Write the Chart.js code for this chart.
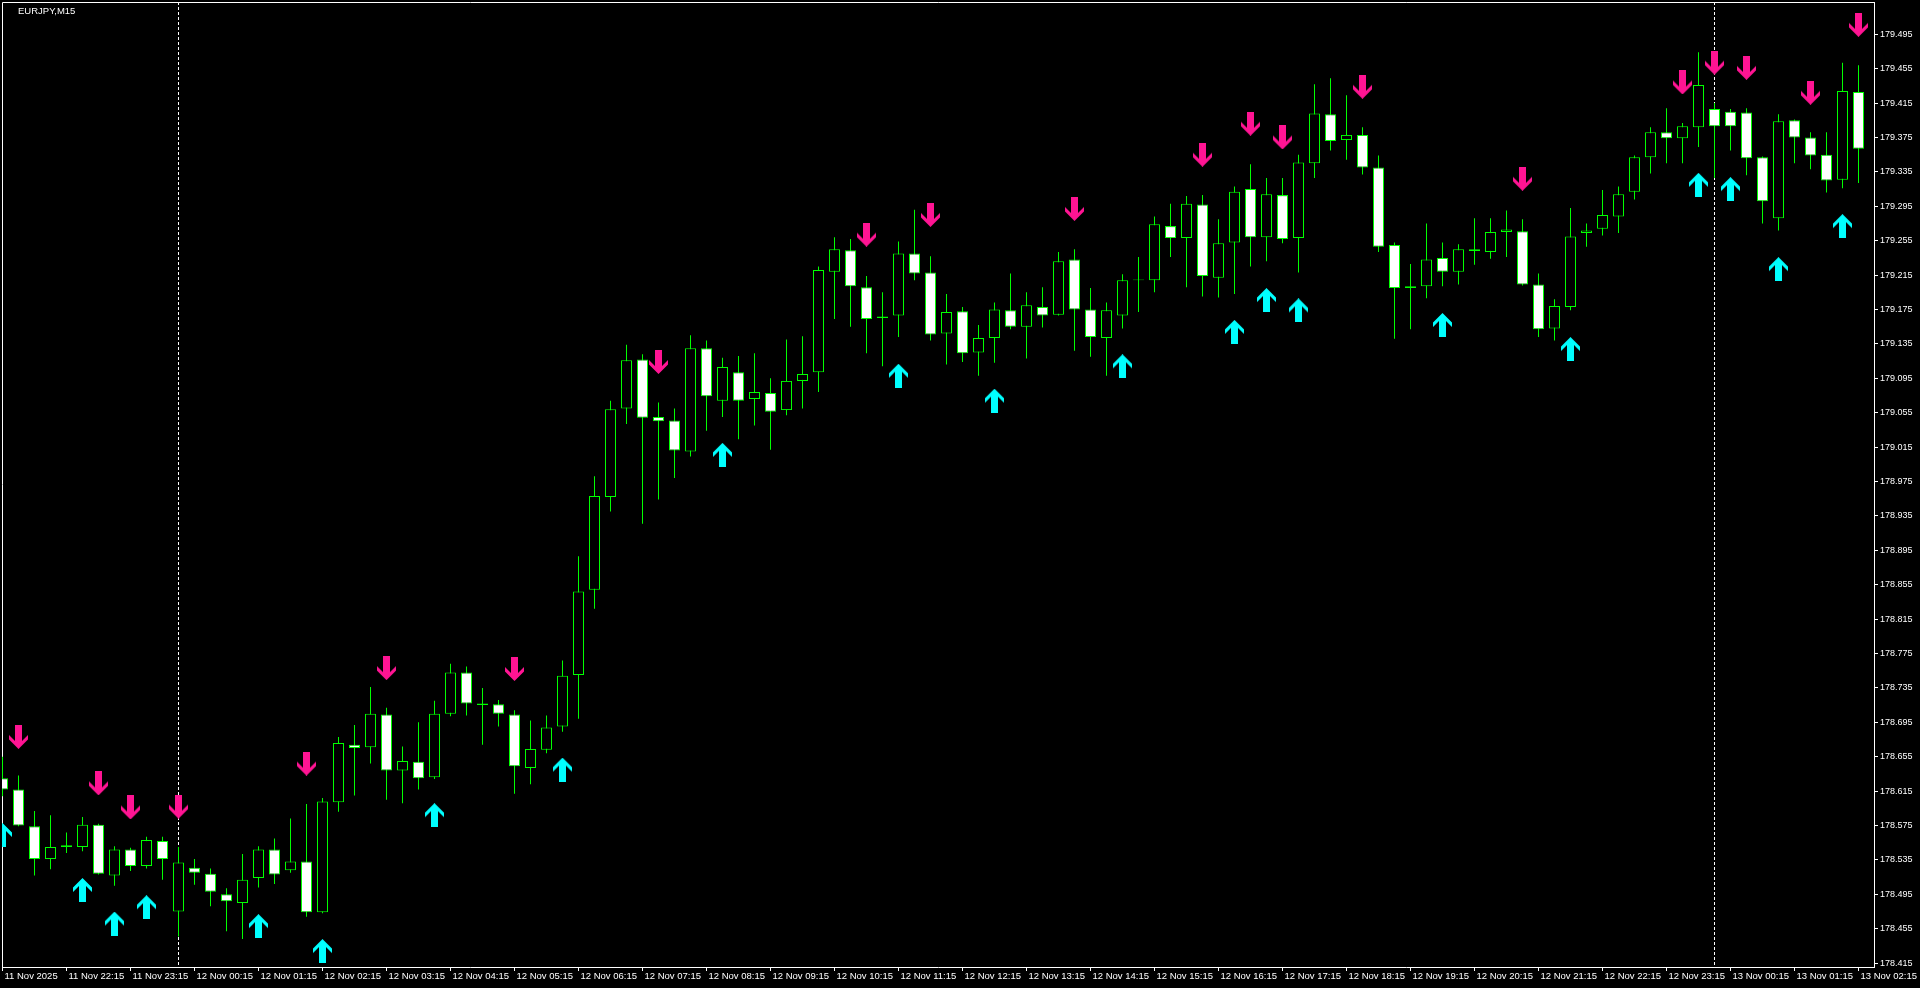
<!DOCTYPE html>
<html>
<head>
<meta charset="utf-8">
<title>EURJPY,M15</title>
<script src="https://cdn.jsdelivr.net/npm/chart.js@4.4.1/dist/chart.umd.min.js"></script>
<style>
  html, body { margin: 0; padding: 0; background: #000; overflow: hidden; }
  #wrap { width: 1920px; height: 988px; }
</style>
</head>
<body>
<div id="wrap"><canvas id="chart" width="1920" height="988"></canvas></div>
<script>
// EURJPY M15, 11 Nov 21:15 .. 13 Nov 02:15 (117 bars)
const symbolTitle = "EURJPY,M15";

const openPrices = [
  178.630, 178.617, 178.574, 178.536, 178.550, 178.550, 178.576, 178.517, 178.547, 178.528,
  178.557, 178.475, 178.526, 178.519, 178.495, 178.485, 178.514, 178.547, 178.523, 178.533,
  178.474, 178.602, 178.669, 178.666, 178.704, 178.639, 178.649, 178.631, 178.705, 178.753,
  178.717, 178.716, 178.704, 178.642, 178.663, 178.690, 178.750, 178.849, 178.957, 179.060,
  179.117, 179.050, 179.046, 179.010, 179.130, 179.069, 179.102, 179.071, 179.078, 179.058,
  179.092, 179.102, 179.219, 179.244, 179.201, 179.167, 179.168, 179.240, 179.218, 179.147,
  179.173, 179.125, 179.142, 179.174, 179.155, 179.178, 179.169, 179.233, 179.175, 179.142,
  179.168, 179.209, 179.209, 179.272, 179.258, 179.297, 179.212, 179.253, 179.315, 179.259,
  179.308, 179.258, 179.345, 179.402, 179.372, 179.378, 179.340, 179.250, 179.200, 179.202,
  179.235, 179.219, 179.245, 179.242, 179.265, 179.266, 179.204, 179.153, 179.178, 179.264,
  179.269, 179.283, 179.312, 179.352, 179.381, 179.374, 179.387, 179.408, 179.405, 179.404,
  179.352, 179.281, 179.395, 179.375, 179.355, 179.326, 179.428,
];
const highPrices = [
  178.655, 178.633, 178.592, 178.587, 178.567, 178.585, 178.577, 178.551, 178.549, 178.562,
  178.562, 178.550, 178.536, 178.525, 178.502, 178.542, 178.551, 178.560, 178.583, 178.600,
  178.607, 178.678, 178.692, 178.736, 178.712, 178.667, 178.695, 178.720, 178.763, 178.760,
  178.735, 178.721, 178.709, 178.697, 178.703, 178.767, 178.888, 178.981, 179.069, 179.134,
  179.123, 179.067, 179.060, 179.145, 179.139, 179.119, 179.121, 179.124, 179.095, 179.140,
  179.144, 179.225, 179.259, 179.257, 179.214, 179.195, 179.254, 179.291, 179.237, 179.193,
  179.178, 179.157, 179.183, 179.217, 179.195, 179.201, 179.242, 179.245, 179.200, 179.183,
  179.216, 179.236, 179.283, 179.298, 179.307, 179.308, 179.280, 179.318, 179.344, 179.328,
  179.328, 179.355, 179.437, 179.444, 179.424, 179.387, 179.354, 179.253, 179.228, 179.275,
  179.253, 179.251, 179.281, 179.281, 179.290, 179.280, 179.217, 179.187, 179.293, 179.275,
  179.314, 179.318, 179.354, 179.387, 179.409, 179.392, 179.474, 179.415, 179.408, 179.409,
  179.353, 179.402, 179.396, 179.381, 179.381, 179.462, 179.459,
];
const lowPrices = [
  178.609, 178.574, 178.517, 178.524, 178.543, 178.545, 178.518, 178.505, 178.522, 178.525,
  178.512, 178.446, 178.506, 178.481, 178.452, 178.443, 178.503, 178.507, 178.520, 178.469,
  178.473, 178.591, 178.610, 178.647, 178.605, 178.601, 178.617, 178.629, 178.702, 178.703,
  178.669, 178.690, 178.612, 178.623, 178.659, 178.684, 178.699, 178.827, 178.940, 179.042,
  178.926, 178.954, 178.979, 179.004, 179.034, 179.050, 179.024, 179.040, 179.012, 179.052,
  179.060, 179.079, 179.164, 179.155, 179.124, 179.109, 179.143, 179.209, 179.139, 179.111,
  179.114, 179.098, 179.113, 179.152, 179.118, 179.154, 179.168, 179.127, 179.120, 179.098,
  179.153, 179.172, 179.195, 179.236, 179.201, 179.190, 179.189, 179.193, 179.225, 179.231,
  179.252, 179.218, 179.328, 179.360, 179.349, 179.332, 179.242, 179.141, 179.152, 179.188,
  179.202, 179.204, 179.227, 179.234, 179.236, 179.203, 179.143, 179.139, 179.174, 179.248,
  179.261, 179.264, 179.303, 179.333, 179.345, 179.345, 179.364, 179.328, 179.360, 179.331,
  179.275, 179.267, 179.345, 179.338, 179.311, 179.316, 179.322,
];
const closePrices = [
  178.617, 178.575, 178.536, 178.550, 178.552, 178.576, 178.519, 178.547, 178.528, 178.558,
  178.536, 178.532, 178.520, 178.498, 178.487, 178.512, 178.547, 178.518, 178.533, 178.474,
  178.603, 178.671, 178.665, 178.705, 178.639, 178.650, 178.630, 178.705, 178.753, 178.717,
  178.715, 178.705, 178.644, 178.664, 178.689, 178.749, 178.847, 178.958, 179.059, 179.116,
  179.049, 179.045, 179.011, 179.130, 179.074, 179.108, 179.069, 179.079, 179.056, 179.092,
  179.100, 179.221, 179.245, 179.202, 179.164, 179.165, 179.240, 179.217, 179.146, 179.172,
  179.124, 179.142, 179.175, 179.155, 179.180, 179.168, 179.231, 179.175, 179.143, 179.174,
  179.209, 179.210, 179.274, 179.258, 179.298, 179.214, 179.252, 179.312, 179.259, 179.309,
  179.257, 179.346, 179.403, 179.371, 179.378, 179.340, 179.248, 179.200, 179.202, 179.233,
  179.219, 179.245, 179.243, 179.265, 179.268, 179.204, 179.152, 179.179, 179.260, 179.267,
  179.285, 179.309, 179.352, 179.381, 179.374, 179.388, 179.436, 179.388, 179.388, 179.351,
  179.301, 179.394, 179.375, 179.354, 179.325, 179.429, 179.362,
];

// indicator arrows: bar index and price level of the arrow centre
const sellArrowBars   = [1, 6, 8, 11, 19, 24, 32, 41, 54, 58, 67, 75, 78, 80, 85, 95, 105, 107, 109, 113, 116];
const sellArrowPrices = [178.678, 178.624, 178.596, 178.597, 178.647, 178.758, 178.757, 179.114, 179.262, 179.285,
                         179.292, 179.355, 179.391, 179.375, 179.434, 179.327, 179.439, 179.462, 179.456, 179.427, 179.506];
const buyArrowBars    = [0, 5, 7, 9, 16, 20, 27, 35, 45, 56, 62, 70, 77, 79, 81, 90, 98, 106, 108, 111, 115];
const buyArrowPrices  = [178.564, 178.500, 178.461, 178.480, 178.458, 178.429, 178.587, 178.640, 179.006, 179.098,
                         179.069, 179.109, 179.149, 179.186, 179.174, 179.157, 179.129, 179.320, 179.315, 179.222, 179.272];

// day separators (first bar of 12 Nov and 13 Nov)
const separatorBars = [11, 107];

const xTickBars = [0, 4, 8, 12, 16, 20, 24, 28, 32, 36, 40, 44, 48, 52, 56, 60, 64, 68, 72, 76, 80, 84, 88, 92, 96, 100, 104, 108, 112, 116];
const xTickLabels = [
  "11 Nov 2025", "11 Nov 22:15", "11 Nov 23:15", "12 Nov 00:15", "12 Nov 01:15", "12 Nov 02:15",
  "12 Nov 03:15", "12 Nov 04:15", "12 Nov 05:15", "12 Nov 06:15", "12 Nov 07:15", "12 Nov 08:15",
  "12 Nov 09:15", "12 Nov 10:15", "12 Nov 11:15", "12 Nov 12:15", "12 Nov 13:15", "12 Nov 14:15",
  "12 Nov 15:15", "12 Nov 16:15", "12 Nov 17:15", "12 Nov 18:15", "12 Nov 19:15", "12 Nov 20:15",
  "12 Nov 21:15", "12 Nov 22:15", "12 Nov 23:15", "13 Nov 00:15", "13 Nov 01:15", "13 Nov 02:15",
];
const yTickValues = [
  178.415, 178.455, 178.495, 178.535, 178.575, 178.615, 178.655, 178.695, 178.735, 178.775,
  178.815, 178.855, 178.895, 178.935, 178.975, 179.015, 179.055, 179.095, 179.135, 179.175,
  179.215, 179.255, 179.295, 179.335, 179.375, 179.415, 179.455, 179.495,
];

const GREEN = "#00ff00";
const PINK = "#ff1493";
const CYAN = "#00ffff";
const AXIS_FONT = "'Liberation Sans', Arial, sans-serif";

// arrow glyph (up), flipped for the sell signal
function makeArrow(color, down) {
  const c = document.createElement("canvas");
  c.width = 19;
  c.height = 24;
  const g = c.getContext("2d");
  const pts = [[9.5, 0], [19, 9.5], [19, 14], [13, 8], [13, 24], [6, 24], [6, 8], [0, 14], [0, 9.5]];
  g.beginPath();
  pts.forEach(([x, y], k) => {
    const yy = down ? 24 - y : y;
    if (k) g.lineTo(x, yy); else g.moveTo(x, yy);
  });
  g.closePath();
  g.fillStyle = color;
  g.fill();
  return c;
}

const bars = openPrices.map((_, i) => i);
const wickData = bars.map((i) => ({ x: i, y: [lowPrices[i], highPrices[i]] }));
const bodyData = bars.map((i) => ({ x: i, y: [openPrices[i], closePrices[i]] }));
const bodyFill = bars.map((i) => (closePrices[i] > openPrices[i] ? "#000000" : "#ffffff"));
const sellData = sellArrowBars.map((b, k) => ({ x: b, y: sellArrowPrices[k] }));
const buyData = buyArrowBars.map((b, k) => ({ x: b, y: buyArrowPrices[k] }));

// white frame, day separators and symbol caption
const terminalFrame = {
  id: "terminalFrame",
  beforeDatasetsDraw(chart) {
    const { ctx, chartArea: a, scales } = chart;
    ctx.save();
    ctx.strokeStyle = "#ffffff";
    ctx.lineWidth = 1;
    ctx.setLineDash([3, 2]);
    separatorBars.forEach((b) => {
      const px = scales.x.getPixelForValue(b);
      ctx.beginPath();
      ctx.moveTo(px, a.top);
      ctx.lineTo(px, a.bottom);
      ctx.stroke();
    });
    ctx.setLineDash([]);
    ctx.beginPath();
    ctx.moveTo(a.left + 0.5, a.bottom);
    ctx.lineTo(a.left + 0.5, a.top + 0.5);
    ctx.lineTo(a.right, a.top + 0.5);
    ctx.stroke();
    ctx.restore();
  },
  afterDraw(chart) {
    const ctx = chart.ctx;
    ctx.save();
    ctx.fillStyle = "#ffffff";
    ctx.font = "9.5px " + AXIS_FONT;
    ctx.textBaseline = "middle";
    ctx.fillText(symbolTitle, 18, 11);
    ctx.restore();
  },
};

new Chart(document.getElementById("chart"), {
  type: "bar",
  data: {
    datasets: [
      { type: "scatter", label: "sell", data: sellData, pointStyle: makeArrow(PINK, true), pointRadius: 10, order: 0 },
      { type: "scatter", label: "buy", data: buyData, pointStyle: makeArrow(CYAN, false), pointRadius: 10, order: 0 },
      {
        label: "body", data: bodyData, backgroundColor: bodyFill, borderColor: GREEN, borderWidth: 1,
        borderSkipped: false, barThickness: 11, grouped: false, inflateAmount: 0, order: 1,
      },
      {
        label: "wick", data: wickData, backgroundColor: GREEN, borderWidth: 0,
        barThickness: 1, grouped: false, inflateAmount: 0, order: 2,
      },
    ],
  },
  options: {
    responsive: false,
    animation: false,
    events: [],
    devicePixelRatio: 1,
    layout: { autoPadding: false, padding: { left: 2, top: 2, right: 0, bottom: 0 } },
    plugins: { legend: { display: false }, tooltip: { enabled: false } },
    scales: {
      x: {
        type: "linear",
        min: -0.03125,
        max: 116.96875,
        offset: false,
        bounds: "data",
        afterBuildTicks: (s) => { s.ticks = xTickBars.map((v) => ({ value: v })); },
        afterFit: (s) => { s.height = 21; s.paddingLeft = 0; s.paddingRight = 0; },
        ticks: {
          autoSkip: false, maxRotation: 0, minRotation: 0, align: "start", labelOffset: 2, padding: 0,
          color: "#ffffff", font: { family: AXIS_FONT, size: 9.5 },
          callback: (v) => xTickLabels[xTickBars.indexOf(v)],
        },
        grid: { display: true, drawOnChartArea: false, drawTicks: true, tickLength: 4, color: "#ffffff", offset: false },
        border: { display: true, color: "#ffffff" },
      },
      y: {
        type: "linear",
        position: "right",
        min: 178.410465,
        max: 179.532558,
        bounds: "data",
        afterBuildTicks: (s) => { s.ticks = yTickValues.map((v) => ({ value: v })); },
        afterFit: (s) => { s.width = 46; s.paddingTop = 0; s.paddingBottom = 0; },
        ticks: {
          padding: 2, color: "#ffffff", font: { family: AXIS_FONT, size: 9 },
          callback: (v) => Number(v).toFixed(3),
        },
        grid: { display: true, drawOnChartArea: false, drawTicks: true, tickLength: 4, color: "#ffffff" },
        border: { display: true, color: "#ffffff" },
      },
    },
  },
  plugins: [terminalFrame],
});
</script>
</body>
</html>
